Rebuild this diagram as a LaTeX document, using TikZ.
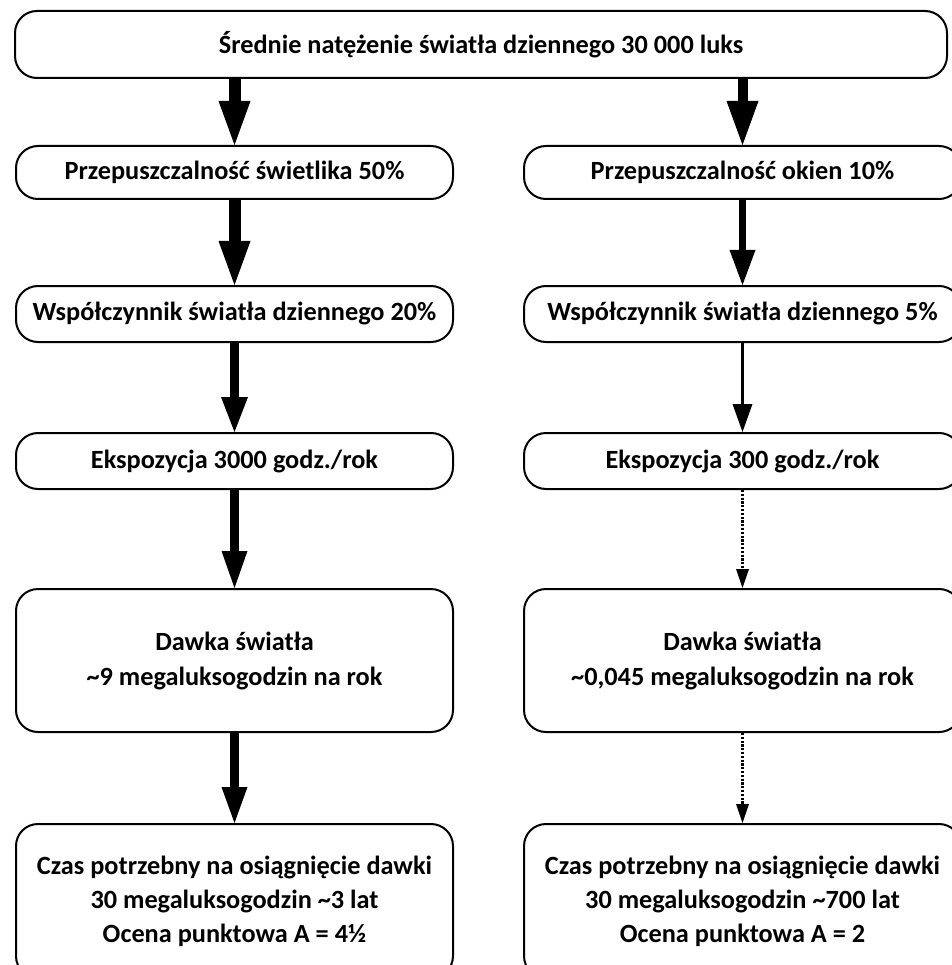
\documentclass[tikz,border=0pt]{standalone}
\usepackage{fontspec}
\setmainfont{Carlito}
\usetikzlibrary{arrows.meta}
\begin{document}
\begin{tikzpicture}[x=1pt,y=-1pt,
  box/.style={draw, line width=2pt, rounded corners=22pt, align=center,
    inner sep=0pt, font=\bfseries\fontsize{26.3}{34}\selectfont},
  colbox/.style={box, minimum width=437pt},
  flow/.style={line width=#1},
  tip/.style 2 args={-{Triangle[width=#1, length=#2, line width=0pt]}},
  faint/.style={line width=2.2pt, dash pattern=on 2.2pt off 1.6pt,
    -{Triangle[width=13pt, length=19pt, line width=0pt]}}]
\useasboundingbox (0,0) rectangle (951,965);

% boxes
\node[box, minimum width=932pt, minimum height=67pt] (top) at (481,44.5)
  {Średnie natężenie światła dziennego 30 000 luks};

\node[colbox, minimum height=53pt] (l1) at (234.5,172.5) {Przepuszczalność świetlika 50\%};
\node[colbox, minimum height=53pt] (r1) at (742.5,172.5) {Przepuszczalność okien 10\%};

\node[colbox, minimum height=56pt] (l2) at (234.5,314) {Współczynnik światła dziennego 20\%};
\node[colbox, minimum height=56pt] (r2) at (742.5,314) {Współczynnik światła dziennego 5\%};

\node[colbox, minimum height=56pt] (l3) at (234.5,461) {Ekspozycja 3000 godz./rok};
\node[colbox, minimum height=56pt] (r3) at (742.5,461) {Ekspozycja 300 godz./rok};

\node[colbox, minimum height=143pt] (l4) at (234.5,660.5)
  {Dawka światła\\[1pt]\textasciitilde 9 megaluksogodzin na rok};
\node[colbox, minimum height=143pt] (r4) at (742.5,660.5)
  {Dawka światła\\[1pt]\textasciitilde 0,045 megaluksogodzin na rok};

\node[colbox, minimum height=154pt] (l5) at (234.5,901)
  {Czas potrzebny na osiągnięcie dawki\\30 megaluksogodzin \textasciitilde 3 lat\\Ocena punktowa A = 4½};
\node[colbox, minimum height=154pt] (r5) at (742.5,901)
  {Czas potrzebny na osiągnięcie dawki\\30 megaluksogodzin \textasciitilde 700 lat\\Ocena punktowa A = 2};

% connectors
\draw[flow=12pt, tip={32pt}{44pt}] (top.south -| l1.north) -- (l1.north);
\draw[flow=10pt, tip={32pt}{44pt}] (top.south -| r1.north) -- (r1.north);

\draw[flow=12pt, tip={32pt}{44pt}] (l1) -- (l2);
\draw[flow=7pt, tip={26pt}{35pt}] (r1) -- (r2);

\draw[flow=9pt, tip={27pt}{35pt}] (l2) -- (l3);
\draw[flow=3.5pt, tip={20pt}{28pt}] (r2) -- (r3);

\draw[flow=9pt, tip={26pt}{37pt}] (l3) -- (l4);
\draw[faint] (r3) -- (r4);

\draw[flow=9.5pt, tip={26pt}{36pt}] (l4) -- (l5);
\draw[faint] (r4) -- (r5);
\end{tikzpicture}
\end{document}
